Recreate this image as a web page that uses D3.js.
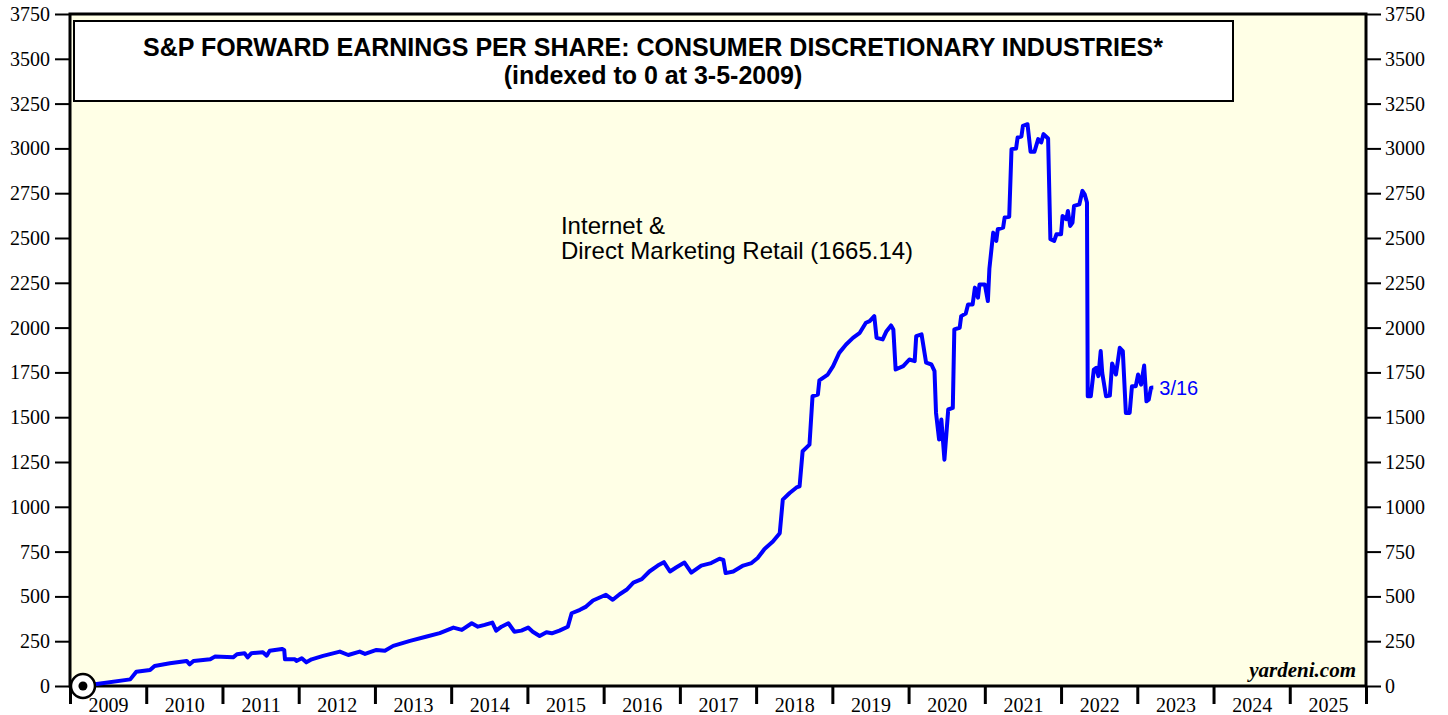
<!DOCTYPE html>
<html>
<head>
<meta charset="utf-8">
<script src="https://cdn.jsdelivr.net/npm/d3@7"></script>
<style>
  body { margin: 0; background: #fff; }
  .tick text { font-family: "Liberation Serif", "Times New Roman", serif; font-size: 20px; fill: #000; }
</style>
</head>
<body>
<div id="chart"></div>
<script>
   var svgWidth = 1448;
   var svgHeight = 715;

   var margin = { top: 14, right: 82, bottom: 29, left: 70 };

   var width = svgWidth - margin.left - margin.right;
   var height = svgHeight - margin.top - margin.bottom;

   // weekly dates as fractional years, and the index values
   var dates = [
       2009.17, 2009.35, 2009.79, 2009.87, 2010.05, 2010.11, 2010.31, 2010.53, 2010.57, 2010.62,
       2010.84, 2010.90, 2011.14, 2011.19, 2011.29, 2011.33, 2011.38, 2011.53, 2011.58, 2011.62,
       2011.78, 2011.81, 2011.82, 2011.95, 2011.97, 2012.04, 2012.10, 2012.17, 2012.32, 2012.54,
       2012.65, 2012.80, 2012.87, 2013.02, 2013.13, 2013.24, 2013.46, 2013.68, 2013.85, 2014.03,
       2014.09, 2014.14, 2014.27, 2014.35, 2014.44, 2014.54, 2014.59, 2014.66, 2014.75, 2014.83,
       2014.92, 2015.01, 2015.07, 2015.16, 2015.25, 2015.32, 2015.42, 2015.53, 2015.58, 2015.69,
       2015.77, 2015.86, 2016.03, 2016.12, 2016.21, 2016.30,
       2016.39, 2016.50, 2016.60, 2016.71, 2016.79, 2016.87, 2016.95, 2017.06, 2017.15, 2017.28,
       2017.41, 2017.52, 2017.57, 2017.60, 2017.70, 2017.83, 2017.94, 2018.02, 2018.11, 2018.22,
       2018.31, 2018.35, 2018.44, 2018.53, 2018.57, 2018.61, 2018.70, 2018.74, 2018.81, 2018.83,
       2018.94, 2019.01, 2019.09, 2019.18, 2019.27, 2019.36, 2019.44, 2019.49, 2019.55, 2019.58,
       2019.66, 2019.71, 2019.77, 2019.80, 2019.83, 2019.93, 2020.01, 2020.08, 2020.10, 2020.17,
       2020.23, 2020.30, 2020.34, 2020.36, 2020.40, 2020.43, 2020.47, 2020.52, 2020.58, 2020.60,
       2020.67, 2020.69, 2020.75, 2020.78, 2020.84, 2020.87, 2020.91, 2020.93, 2021.00, 2021.04,
       2021.06, 2021.11, 2021.15, 2021.17, 2021.24, 2021.26, 2021.32, 2021.35, 2021.41, 2021.43,
       2021.48, 2021.50, 2021.56, 2021.60, 2021.65, 2021.70, 2021.74, 2021.77, 2021.83, 2021.86,
       2021.91, 2021.94, 2022.00, 2022.02, 2022.07, 2022.09, 2022.12, 2022.15, 2022.17, 2022.24,
       2022.28, 2022.31, 2022.34, 2022.35, 2022.39, 2022.43, 2022.46, 2022.49, 2022.52, 2022.54,
       2022.59, 2022.64, 2022.67, 2022.72, 2022.77, 2022.81, 2022.85, 2022.90, 2022.93, 2022.98,
       2023.01, 2023.05, 2023.09, 2023.12, 2023.15, 2023.18, 2023.21
   ];

   var values = [
       0, 11, 37, 80, 89, 112, 127, 140, 121, 140,
       149, 164, 160, 177, 183, 160, 183, 188, 169, 197,
       207, 201, 149, 149, 140, 155, 132, 149, 168, 192,
       173, 192, 179, 201, 197, 224, 252, 276, 295, 326,
       319, 313, 350, 331, 341, 354, 309, 331, 350, 303,
       309, 326, 303, 279, 300, 294, 309, 331, 406, 425,
       443, 477, 509, 481, 512, 537,
       577, 596, 639, 672, 691, 639, 661, 689, 633, 672,
       686, 710, 704, 630, 639, 672, 686, 714, 764, 806,
       853, 1040, 1077, 1108, 1114, 1310, 1347, 1617, 1626, 1706,
       1738, 1785, 1859, 1906, 1943, 1971, 2027, 2036, 2064, 1943,
       1934, 1980, 2012, 1990, 1766, 1785, 1822, 1813, 1952, 1962,
       1804, 1794, 1757, 1524, 1375, 1487, 1263, 1543, 1552, 1990,
       1999, 2064, 2079, 2129, 2129, 2223, 2167, 2241, 2241, 2148,
       2329, 2530, 2484, 2549, 2558, 2614, 2619, 2996, 2999, 3061,
       3066, 3126, 3135, 2981, 2981, 3052, 3033, 3080, 3055, 2493,
       2484, 2521, 2521, 2623, 2605, 2651, 2567, 2586, 2679, 2688,
       2763, 2744, 2698, 1617, 1617, 1766, 1775, 1729, 1869, 1747,
       1617, 1621, 1800, 1738, 1887, 1869, 1524, 1524, 1673, 1673,
       1738, 1682, 1788, 1589, 1598, 1665, 1665.14
   ];

   var yearTicks = d3.range(2009, 2027);
   var yearLabels = d3.range(2009, 2026);
   var yTicks = d3.range(0, 3751, 250);

   var titleLines = [
       "S&P FORWARD EARNINGS PER SHARE: CONSUMER DISCRETIONARY INDUSTRIES*",
       "(indexed to 0 at 3-5-2009)"
   ];
   var seriesLabel = ["Internet &", "Direct Marketing Retail (1665.14)"];
   var lastDateLabel = "3/16";

   var svg = d3.select("#chart")
       .append("svg")
       .attr("width", svgWidth)
       .attr("height", svgHeight);

   var chartGroup = svg.append("g")
       .attr("transform", `translate(${margin.left}, ${margin.top})`);

   var xScale = d3.scaleLinear()
       .domain([2009, 2026])
       .range([0, width]);

   var yScale = d3.scaleLinear()
       .domain([0, 3750])
       .range([height, 0]);

   // plot background
   chartGroup.append("rect")
       .attr("width", width)
       .attr("height", height)
       .attr("fill", "#ffffe6");

   // Axes
   var leftAxis = d3.axisLeft(yScale).tickValues(yTicks).tickSize(15).tickPadding(5).tickFormat(d3.format("d"));
   var rightAxis = d3.axisRight(yScale).tickValues(yTicks).tickSize(15).tickPadding(4).tickFormat(d3.format("d"));

   chartGroup.append("g").call(leftAxis)
       .call(g => g.select(".domain").remove())
       .selectAll("line").attr("stroke-width", 2);

   chartGroup.append("g")
       .attr("transform", `translate(${width}, 0)`)
       .call(rightAxis)
       .call(g => g.select(".domain").remove())
       .selectAll("line").attr("stroke-width", 2);

   var bottomTicks = d3.axisBottom(xScale).tickValues(yearTicks).tickSize(18).tickFormat("");
   chartGroup.append("g")
       .attr("transform", `translate(0, ${height})`)
       .call(bottomTicks)
       .call(g => g.select(".domain").remove())
       .selectAll("line").attr("stroke-width", 3);

   // year labels sit between the year ticks
   var bottomLabels = d3.axisBottom(xScale)
       .tickValues(yearLabels.map(d => d + 0.5))
       .tickSize(0).tickPadding(12)
       .tickFormat(d => Math.floor(d));
   chartGroup.append("g")
       .attr("transform", `translate(0, ${height})`)
       .call(bottomLabels)
       .call(g => g.select(".domain").remove());

   // plot frame
   chartGroup.append("rect")
       .attr("width", width)
       .attr("height", height)
       .attr("fill", "none")
       .attr("stroke", "#000")
       .attr("stroke-width", 3);

   // Title box
   chartGroup.append("rect")
       .attr("x", 4)
       .attr("y", 7)
       .attr("width", 1159)
       .attr("height", 80)
       .attr("fill", "#fff")
       .attr("stroke", "#000")
       .attr("stroke-width", 2);

   chartGroup.selectAll(".title")
       .data(titleLines)
       .enter()
       .append("text")
       .attr("class", "title")
       .attr("x", 583)
       .attr("y", (d, i) => 42 + i * 28)
       .style("font-family", "Liberation Sans, Arial, sans-serif")
       .style("font-weight", "bold")
       .style("font-size", "25px")
       .style("text-anchor", "middle")
       .text(d => d);

   // Series line
   var pts = dates.map((d, i) => [d, values[i]]);
   var line = d3.line()
       .x(d => xScale(d[0]))
       .y(d => yScale(d[1]));

   chartGroup.append("path")
       .datum(pts)
       .attr("d", line)
       .attr("fill", "none")
       .attr("stroke", "#0000ff")
       .attr("stroke-width", 4)
       .attr("stroke-linejoin", "round");

   // base marker at index origin
   chartGroup.append("circle")
       .attr("cx", xScale(dates[0]))
       .attr("cy", yScale(0))
       .attr("r", 12)
       .attr("fill", "#fff")
       .attr("stroke", "#000")
       .attr("stroke-width", 2.5);
   chartGroup.append("circle")
       .attr("cx", xScale(dates[0]))
       .attr("cy", yScale(0))
       .attr("r", 4.5)
       .attr("fill", "#000");

   // labels
   chartGroup.selectAll(".serieslabel")
       .data(seriesLabel)
       .enter()
       .append("text")
       .attr("class", "serieslabel")
       .attr("x", xScale(2015.44))
       .attr("y", (d, i) => 220 + i * 25)
       .style("font-family", "Liberation Sans, Arial, sans-serif")
       .style("font-size", "24px")
       .text(d => d);

   chartGroup.append("text")
       .attr("x", xScale(dates[dates.length - 1]) + 6)
       .attr("y", yScale(values[values.length - 1]) + 7)
       .style("font-family", "Liberation Sans, Arial, sans-serif")
       .style("font-size", "20px")
       .style("fill", "#0000ff")
       .text(lastDateLabel);

   chartGroup.append("text")
       .attr("x", width - 10)
       .attr("y", height - 9)
       .style("font-family", "Liberation Serif, Times New Roman, serif")
       .style("font-weight", "bold")
       .style("font-style", "italic")
       .style("font-size", "21px")
       .style("text-anchor", "end")
       .text("yardeni.com");
</script>
</body>
</html>
